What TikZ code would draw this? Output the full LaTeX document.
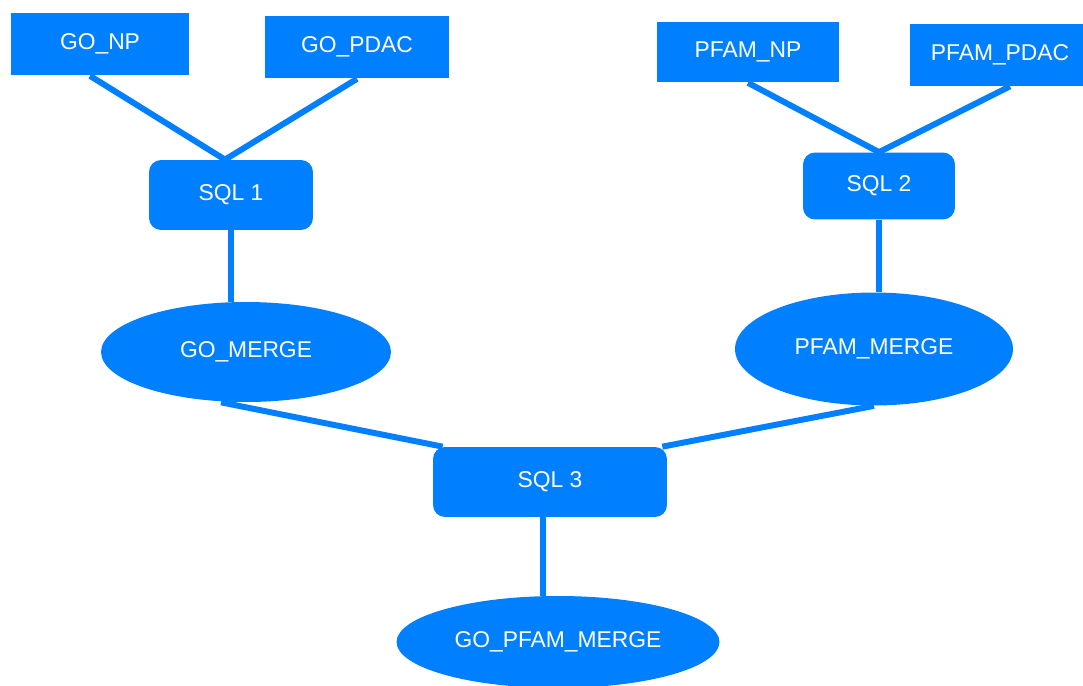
\documentclass[tikz,border=0pt]{standalone}
\usepackage{fontspec}
\setmainfont{Liberation Sans}
\usepackage{xcolor}
\usetikzlibrary{shapes.geometric, positioning}
\definecolor{flowblue}{RGB}{0,128,255}

\begin{document}
\begin{tikzpicture}[x=0.02cm, y=-0.02cm,
    tablebox/.style={rectangle, fill=flowblue, text=white, inner sep=0pt},
    sqlbox/.style={rectangle, rounded corners=0.24cm, fill=flowblue, text=white, inner sep=0pt},
    mergebox/.style={ellipse, fill=flowblue, text=white, inner sep=0pt},
    link/.style={flowblue, line width=3.4pt}]
  \useasboundingbox (0,0) rectangle (1083,686);
  \fontsize{13}{15}\selectfont
  % source tables
  \node[tablebox, minimum width=3.56cm, minimum height=1.26cm] (GONP) at (100,44) {GO\_NP};
  \node[tablebox, minimum width=3.70cm, minimum height=1.26cm] (GOPDAC) at (357,47) {GO\_PDAC};
  \node[tablebox, minimum width=3.66cm, minimum height=1.22cm] (PFAMNP) at (748,52) {PFAM\_NP};
  \node[tablebox, minimum width=3.60cm, minimum height=1.24cm] (PFAMPDAC) at (1000,55) {PFAM\_PDAC};
  % queries
  \node[sqlbox, minimum width=3.28cm, minimum height=1.40cm] (SQL1) at (231,195) {SQL 1};
  \node[sqlbox, minimum width=3.04cm, minimum height=1.34cm] (SQL2) at (879,186) {SQL 2};
  \node[sqlbox, minimum width=4.68cm, minimum height=1.40cm] (SQL3) at (550,482) {SQL 3};
  % merged tables
  \node[mergebox, minimum width=5.80cm, minimum height=2.00cm] (GOMERGE) at (246,352) {GO\_MERGE};
  \node[mergebox, minimum width=5.56cm, minimum height=2.26cm] (PFAMMERGE) at (874,349) {PFAM\_MERGE};
  \node[mergebox, minimum width=6.46cm, minimum height=1.84cm] (GOPFAMMERGE) at (558,642) {GO\_PFAM\_MERGE};
  % links
  \draw[link] ([xshift=-0.2cm]GONP.south) -- ([xshift=-0.12cm]SQL1.north);
  \draw[link] (GOPDAC.south) -- ([xshift=-0.12cm]SQL1.north);
  \draw[link] (SQL1.south) -- (GOMERGE.north -| SQL1.south);
  \draw[link] (PFAMNP.south) -- (SQL2.north);
  \draw[link] ([xshift=0.2cm]PFAMPDAC.south) -- (SQL2.north);
  \draw[link] (SQL2.south) -- (PFAMMERGE.north -| SQL2.south);
  \draw[link] ([xshift=-0.5cm]GOMERGE.south) -- ([xshift=0.2cm]SQL3.north west);
  \draw[link] (PFAMMERGE.south) -- ([xshift=-0.1cm]SQL3.north east);
  \draw[link] ([xshift=-0.14cm]SQL3.south) -- ([xshift=-0.14cm]GOPFAMMERGE.north -| SQL3.south);
\end{tikzpicture}
\end{document}
